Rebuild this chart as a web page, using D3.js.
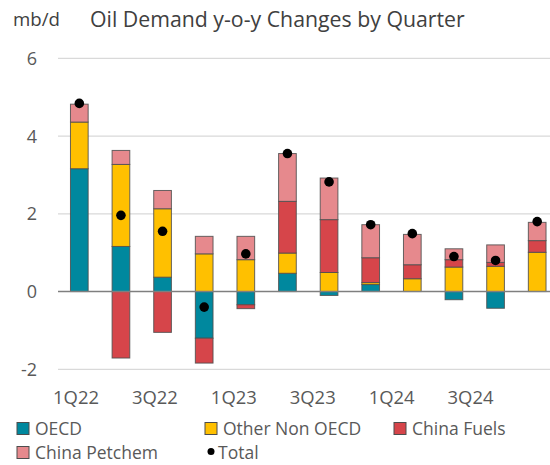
<!DOCTYPE html>
<html>
<head>
<meta charset="utf-8">
<script src="https://cdn.jsdelivr.net/npm/d3@7"></script>
<style>
  html, body { margin: 0; padding: 0; background: #ffffff; }
  svg { display: block; font-family: "Open Sans", "Noto Sans", sans-serif; }
</style>
</head>
<body>
<svg id="chart" width="550" height="465"></svg>
<script>
const quarters = ["1Q22","2Q22","3Q22","4Q22","1Q23","2Q23","3Q23","4Q23","1Q24","2Q24","3Q24","4Q24"];
const tickLabels = ["1Q22","3Q22","1Q23","3Q23","1Q24","3Q24"];
const yTicks = [-2, 0, 2, 4, 6];
const seriesNames = ["OECD","Other Non OECD","China Fuels","China Petchem"];
const oecd         = [3.16, 1.16, 0.37, -1.20, -0.34, 0.47, -0.10, 0.18, 0.00, -0.21, -0.43, 0.00];
const otherNonOecd = [1.20, 2.11, 1.76,  0.97,  0.82, 0.52,  0.49, 0.05, 0.33,  0.63,  0.65, 1.01];
const chinaFuels   = [0.00,-1.71,-1.05, -0.64, -0.10, 1.33,  1.36, 0.64, 0.36,  0.19,  0.10, 0.30];
const chinaPetchem = [0.46, 0.36, 0.47,  0.45,  0.60, 1.23,  1.07, 0.85, 0.78,  0.28,  0.45, 0.47];
const total        = [4.84, 1.96, 1.55, -0.40,  0.97, 3.55,  2.82, 1.72, 1.49,  0.90,  0.80, 1.80];
const colors = ["#00889E", "#FFC000", "#D6454A", "#E6898D"];

const rows = quarters.map((q, i) => ({
  q,
  "OECD": oecd[i],
  "Other Non OECD": otherNonOecd[i],
  "China Fuels": chinaFuels[i],
  "China Petchem": chinaPetchem[i],
  total: total[i]
}));

const svg = d3.select("#chart");
const x = d3.scaleBand().domain(quarters).range([58.5, 558]).paddingInner(0.575).paddingOuter(0.2875);
const xLabel = d3.scaleBand().domain(quarters).range([56.3, 529.7]);
const y = d3.scaleLinear().domain([-2, 6]).range([369.3, 58.3]);
const color = d3.scaleOrdinal().domain(seriesNames).range(colors);

// font size that makes a sample string reach a target pixel width
function fitSize(sample, targetWidth) {
  const t = svg.append("text").attr("font-size", 20).text(sample);
  const w = t.node().getComputedTextLength();
  t.remove();
  return 20 * targetWidth / w;
}
const titleSize = fitSize("Oil Demand y-o-y Changes by Quarter", 375);
const unitSize = fitSize("mb/d", 47);
const xLabelSize = fitSize("1Q22", 46);
const legendSize = Math.min(17.5, fitSize("China Petchem", 132));

// gridlines
svg.append("g").selectAll("line").data(yTicks.filter(d => d !== 0)).join("line")
  .attr("x1", 58).attr("x2", 550)
  .attr("y1", d => y(d)).attr("y2", d => y(d))
  .attr("stroke", "#d9d9d9").attr("stroke-width", 1.3);

// y tick labels
svg.append("g").selectAll("text").data(yTicks).join("text")
  .attr("x", 37).attr("y", d => y(d)).attr("dy", "0.36em")
  .attr("text-anchor", "end")
  .attr("font-size", 18).attr("fill", "#595959")
  .text(d => d);

// stacked bars
const stack = d3.stack().keys(seriesNames).offset(d3.stackOffsetDiverging);
const stacked = stack(rows);
svg.append("g").selectAll("g").data(stacked).join("g")
  .attr("fill", d => color(d.key))
  .selectAll("rect").data(d => d).join("rect")
  .filter(d => Math.abs(d[1] - d[0]) > 0.001)
  .attr("x", d => x(d.data.q))
  .attr("width", x.bandwidth())
  .attr("y", d => y(Math.max(d[0], d[1])))
  .attr("height", d => Math.abs(y(d[0]) - y(d[1])))
  .attr("stroke", "#4d4d4d").attr("stroke-width", 1).attr("stroke-opacity", 0.85);

// zero line
svg.append("line")
  .attr("x1", 58).attr("x2", 550).attr("y1", y(0)).attr("y2", y(0))
  .attr("stroke", "#7f7f7f").attr("stroke-width", 1.5);

// totals
svg.append("g").selectAll("circle").data(rows).join("circle")
  .attr("cx", d => x(d.q) + x.bandwidth() / 2)
  .attr("cy", d => y(d.total))
  .attr("r", 4.8).attr("fill", "#000");

// x axis labels
const xAxis = d3.axisBottom(xLabel).tickValues(tickLabels).tickSize(0).tickPadding(0);
const gx = svg.append("g").attr("transform", "translate(0,391)").call(xAxis);
gx.select(".domain").remove();
gx.selectAll("text").attr("font-size", xLabelSize).attr("fill", "#595959")
  .attr("font-family", "\"Open Sans\", \"Noto Sans\", sans-serif").attr("dy", "0.71em").attr("y", 0);

// title
svg.append("text").attr("x", 90).attr("y", 27).attr("font-size", titleSize).attr("fill", "#404040")
  .text("Oil Demand y-o-y Changes by Quarter");
svg.append("text").attr("x", 13).attr("y", 26).attr("font-size", unitSize).attr("fill", "#404040")
  .text("mb/d");

// legend
const legendItems = [
  { name: "OECD", type: "rect", x: 17, y: 428.5 },
  { name: "Other Non OECD", type: "rect", x: 205, y: 428.5 },
  { name: "China Fuels", type: "rect", x: 394, y: 428.5 },
  { name: "China Petchem", type: "rect", x: 17, y: 452.5 },
  { name: "Total", type: "dot", x: 205, y: 452.5 }
];
const lg = svg.append("g").selectAll("g").data(legendItems).join("g")
  .attr("transform", d => `translate(${d.x},${d.y})`);
lg.filter(d => d.type === "rect").append("rect")
  .attr("x", 0).attr("y", -6).attr("width", 12).attr("height", 12)
  .attr("fill", d => color(d.name)).attr("stroke", "#4d4d4d").attr("stroke-width", 1);
lg.filter(d => d.type === "dot").append("circle")
  .attr("cx", 6).attr("cy", -1).attr("r", 3.5).attr("fill", "#000");
lg.append("text").attr("x", d => d.type === "dot" ? 13 : 18).attr("y", 0).attr("dy", "0.35em")
  .attr("font-size", legendSize).attr("fill", "#595959").text(d => d.name);
</script>
</body>
</html>
